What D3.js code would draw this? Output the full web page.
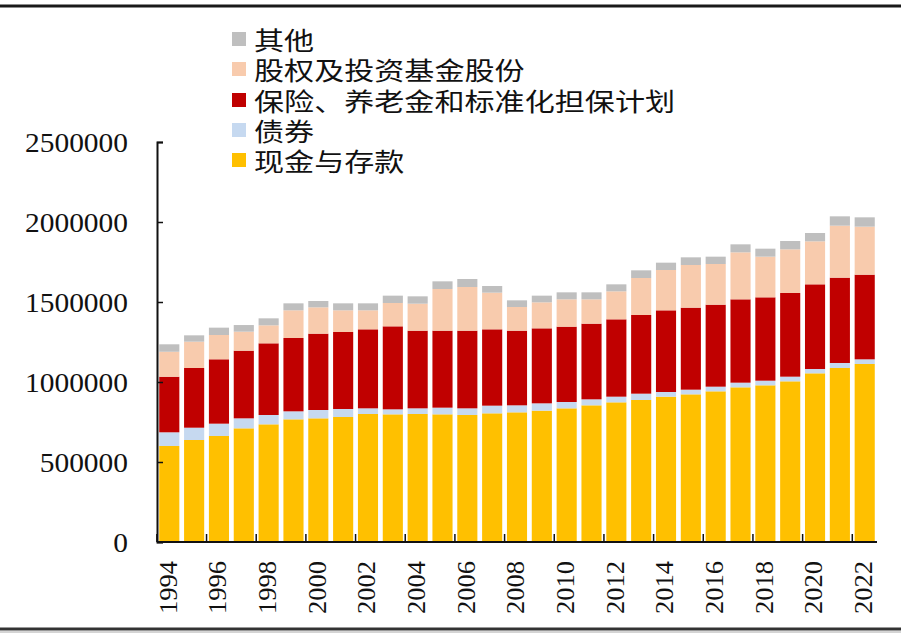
<!DOCTYPE html>
<html>
<head>
<meta charset="utf-8">
<script src="https://cdn.jsdelivr.net/npm/d3@7/dist/d3.min.js"></script>
<style>
  html, body { margin: 0; padding: 0; background: #fff; }
  svg { display: block; }
</style>
</head>
<body>
<svg id="chart" width="901" height="642"></svg>
<script>
// ---- Data ----
const years = d3.range(1994, 2023).map(String);
const seriesNames = ["现金与存款", "债券", "保险、养老金和标准化担保计划", "股权及投资基金股份", "其他"];
const seriesColors = ["#FFC000", "#C6D9F0", "#C00000", "#F8CBAD", "#BFBFBF"];

const cashDeposits = [600000, 637500, 662500, 710400, 735400, 766700, 772900, 781300, 800000, 797900,
  800000, 797900, 793800, 804200, 810400, 820800, 835400, 854200, 872900, 887500,
  908300, 922900, 941700, 966700, 979200, 1004200, 1054200, 1087500, 1112500];
const bonds = [85600, 76900, 77100, 62500, 58400, 50000, 52100, 50000, 35400, 31300,
  35400, 41700, 41600, 47900, 43800, 45900, 39600, 37500, 35400, 39600,
  29200, 29200, 29100, 29100, 29100, 29100, 27100, 31300, 29200];
const insurancePension = [347400, 373100, 402300, 422900, 447900, 458300, 477100, 481200, 493800, 518700,
  485400, 481200, 485400, 477100, 466600, 468700, 470800, 472900, 483400, 491700,
  510400, 512500, 512500, 520900, 520900, 523000, 529100, 533300, 529100];
const equityFunds = [156000, 164500, 151900, 118800, 112500, 173100, 164600, 135600, 118900, 145900,
  168800, 260500, 273000, 229100, 148000, 162500, 170900, 152100, 175000, 231200,
  252100, 266700, 254200, 293700, 254100, 272900, 268800, 325000, 300000];
const other = [46600, 39700, 45800, 41400, 43700, 43600, 39600, 43600, 43600, 45800,
  45800, 47900, 50000, 41700, 41600, 41700, 43700, 43700, 43700, 47900,
  45800, 47900, 45800, 50000, 50000, 52100, 52100, 58300, 58400];
const yTicks = [0, 500000, 1000000, 1500000, 2000000, 2500000];
const xTickLabels = years.filter((d, i) => i % 2 === 0);

// ---- Build table ----
const seriesArrays = [cashDeposits, bonds, insurancePension, equityFunds, other];
const table = years.map((yr, i) => {
  const row = { year: yr };
  seriesNames.forEach((k, j) => row[k] = seriesArrays[j][i]);
  return row;
});

const svg = d3.select("#chart");
const plotLeft = 157, plotRight = 877, plotTop = 142, plotBottom = 542;

const x = d3.scaleBand().domain(years).range([plotLeft, plotRight]).paddingInner(0.19).paddingOuter(0.09);
const y = d3.scaleLinear().domain([0, 2500000]).range([plotBottom, plotTop]);

const stacked = d3.stack().keys(seriesNames)(table);
const color = d3.scaleOrdinal().domain(seriesNames).range(seriesColors);

// frame lines
svg.append("line").attr("x1", 0).attr("x2", 901).attr("y1", 6).attr("y2", 6)
  .attr("stroke", "#1a1a1a").attr("stroke-width", 3);
svg.append("line").attr("x1", 0).attr("x2", 901).attr("y1", 629).attr("y2", 629)
  .attr("stroke", "#333").attr("stroke-width", 3);
svg.append("line").attr("x1", 0).attr("x2", 901).attr("y1", 632).attr("y2", 632)
  .attr("stroke", "#aaa").attr("stroke-width", 1);

// bars
svg.append("g").selectAll("g").data(stacked).join("g")
  .attr("fill", d => color(d.key))
  .selectAll("rect").data(d => d).join("rect")
  .attr("x", d => x(d.data.year))
  .attr("width", x.bandwidth())
  .attr("y", d => y(d[1]))
  .attr("height", d => y(d[0]) - y(d[1]));

// y axis
const yAxis = d3.axisLeft(y).tickValues(yTicks).tickSize(-6).tickFormat(d3.format("d"));
const gy = svg.append("g").attr("transform", `translate(${plotLeft},0)`).call(yAxis);
gy.select(".domain").attr("stroke", "#111").attr("stroke-width", 2);
gy.selectAll(".tick line").attr("stroke", "#111").attr("stroke-width", 1.5);
gy.selectAll(".tick text")
  .attr("x", null).attr("dy", null)
  .attr("font-family", "'Liberation Serif', 'Times New Roman', serif")
  .attr("font-size", 27).attr("fill", "#111")
  .attr("text-anchor", "end")
  .attr("dominant-baseline", "central")
  .attr("transform", "translate(-29,0) scale(1.09,1)");

// x axis: ticks at every other category boundary, inward
const xAxisG = svg.append("g");
xAxisG.append("line").attr("x1", plotLeft).attr("x2", plotRight).attr("y1", plotBottom).attr("y2", plotBottom)
  .attr("stroke", "#111").attr("stroke-width", 2);
const step = x.step();
xAxisG.selectAll("line.tk").data(xTickLabels).join("line")
  .attr("class", "tk")
  .attr("x1", d => x(d) - (step - x.bandwidth()) / 2)
  .attr("x2", d => x(d) - (step - x.bandwidth()) / 2)
  .attr("y1", plotBottom).attr("y2", plotBottom - 8)
  .attr("stroke", "#111").attr("stroke-width", 1.5);

xAxisG.selectAll("text").data(xTickLabels).join("text")
  .attr("transform", d => `translate(${x(d) + x.bandwidth() / 2 - 1},561) rotate(-90) scale(1.02,1)`)
  .attr("text-anchor", "end")
  .attr("dominant-baseline", "central")
  .attr("font-family", "'Liberation Serif', 'Times New Roman', serif")
  .attr("font-size", 26).attr("fill", "#111")
  .text(d => d);

// legend (top to bottom: reversed series order)
const legendItems = seriesNames.map((n, i) => ({ name: n, color: seriesColors[i] })).reverse();
const rowY = [39, 69, 100, 130, 160];
const li = svg.append("g").selectAll("g").data(legendItems).join("g")
  .attr("transform", (d, i) => `translate(232,${rowY[i]})`);
li.append("rect").attr("x", 0).attr("y", -7).attr("width", 14).attr("height", 14).attr("fill", d => d.color);
li.append("text")
  .attr("x", 0).attr("y", 0)
  .attr("transform", "translate(22,0) scale(1.18,1)")
  .attr("dominant-baseline", "central")
  .attr("font-family", "'Noto Sans CJK SC', 'Noto Sans', sans-serif")
  .attr("font-size", 25.5)
  .attr("fill", "#111")
  .text(d => d.name);
</script>
</body>
</html>
